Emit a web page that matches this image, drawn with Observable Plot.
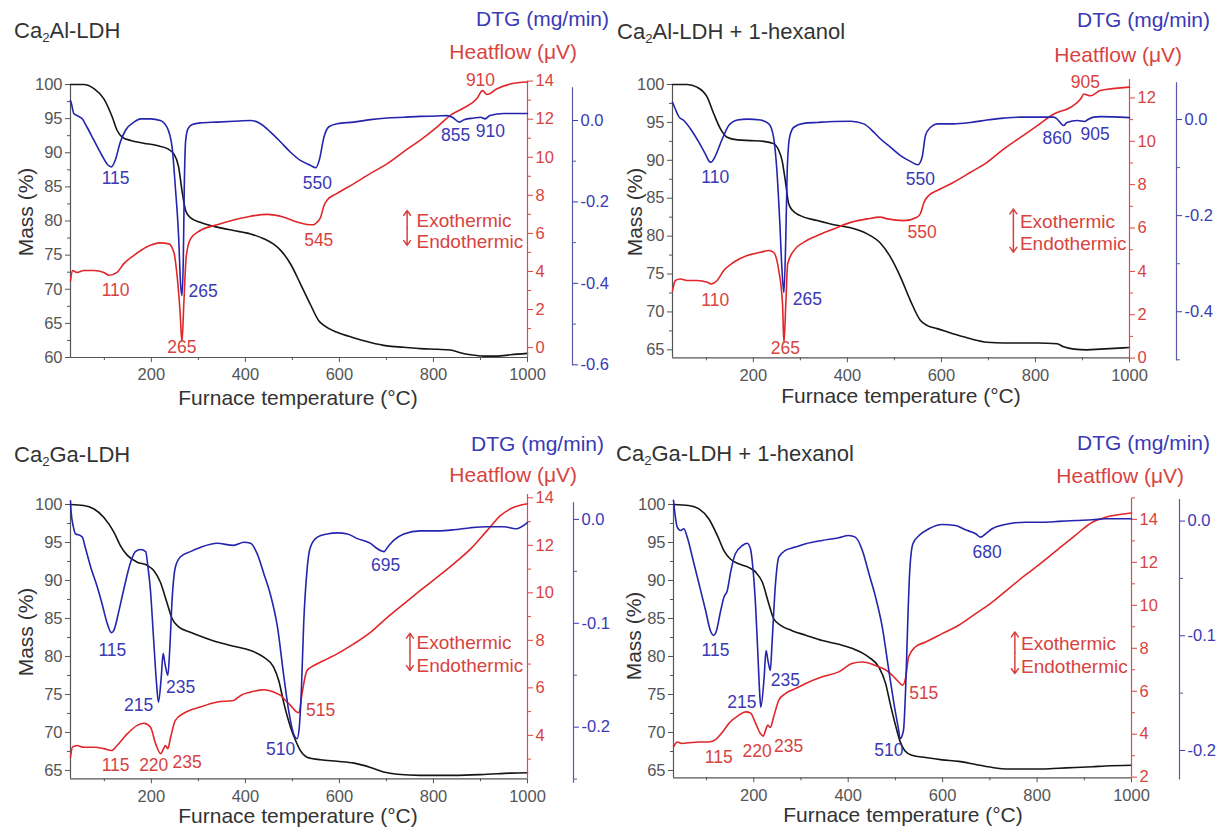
<!DOCTYPE html>
<html><head><meta charset="utf-8">
<script src="https://cdn.jsdelivr.net/npm/d3@7"></script>
<script src="https://cdn.jsdelivr.net/npm/@observablehq/plot@0.6"></script>
<style>
body{margin:0;background:#fff;font-family:"Liberation Sans",Arial,sans-serif;}
#root{position:relative;width:1218px;height:834px;overflow:hidden;background:#fff;}
#root svg{position:absolute;left:0;top:0;pointer-events:none;}
.t{position:absolute;white-space:nowrap;line-height:1;}
.t sub{font-size:0.6em;vertical-align:-0.3em;line-height:0;}
</style></head><body><div id="root"></div>
<script>
// ---------- DATA: Ca2Al-LDH ----------
const al_massT = [28,56,78,99,117,127,138,156,184,212,234,248,258,265,273,283,304,340,375,411,439,460,475,496,517,538,556,567,595,630,666,701,737,772,808,836,857,879,907,935,964,1000];
const al_mass  = [100,100,99.4,97.9,95.2,93.3,92.3,91.8,91.4,91.05,90.6,89.8,87.9,84.5,81.5,80.5,79.8,79.1,78.6,78.1,77.4,76.6,75.7,73.7,70.8,67.8,65.4,64.7,63.7,62.9,62.2,61.7,61.5,61.3,61.2,61.1,60.7,60.4,60.2,60.2,60.4,60.6];
const al_heatT = [28,32,42,56,78,99,110,127,141,163,191,219,237,248,255,261,265,269,274,283,304,340,375,411,446,482,510,531,545,553,560,567,574,595,630,666,701,737,772,808,836,865,893,904,914,935,964,1000];
const al_heat  = [3.5,4.05,3.95,4.05,4.05,3.95,3.8,3.95,4.4,4.85,5.3,5.5,5.45,5.0,3.7,1.9,0.3,2.3,4.75,5.7,6.15,6.45,6.7,6.9,7.0,6.85,6.6,6.47,6.45,6.6,6.85,7.45,7.75,8.1,8.6,9.15,9.65,10.3,10.9,11.6,12.2,12.6,13.1,13.5,13.3,13.6,13.85,13.95];
const al_dtgT  = [28,30,35,42,53,63,78,95,108,115,123,134,145,163,177,198,219,233,244,251,258,262,265,268,270,273,278,287,304,340,375,411,432,453,475,496,517,538,550,557,567,577,595,630,666,701,737,772,808,829,840,855,865,886,900,910,920,950,1000];
const al_dtg   = [0.049,0.041,0.017,0.012,0.004,-0.016,-0.049,-0.086,-0.110,-0.114,-0.098,-0.053,-0.024,-0.004,0.004,0.004,0.0,-0.016,-0.065,-0.164,-0.286,-0.40,-0.43,-0.336,-0.164,-0.049,-0.020,-0.010,-0.006,-0.004,-0.002,0.0,-0.008,-0.028,-0.053,-0.078,-0.098,-0.110,-0.116,-0.098,-0.041,-0.016,-0.008,-0.004,0.002,0.006,0.008,0.010,0.011,0.012,0.008,-0.004,0.002,0.006,0.008,0.004,0.012,0.017,0.017];
const al_blueLabels = [["115",124,-0.143],["265",310,-0.42],["550",553,-0.155],["855",847,-0.037],["910",921,-0.028]];
const al_redLabels  = [["110",124,3.0],["265",265,0.0],["545",556,5.63],["910",900,14.03]];

// ---------- DATA: Ca2Al-LDH + 1-hexanol ----------
const alh_massT = [28,59,80,102,116,130,144,166,194,222,243,254,261,268,275,283,300,336,371,407,442,470,492,513,534,555,570,591,626,662,697,733,768,804,846,860,882,910,938,1000];
const alh_mass  = [100,100,99.65,98.3,96.1,94.15,93.05,92.7,92.6,92.5,92.2,91.3,90,87.3,84.3,83.4,82.7,82.05,81.5,81.1,80.3,79.1,77.2,74.6,71.5,68.9,68.2,67.8,67.1,66.45,66,65.9,65.9,65.9,65.8,65.4,65.1,65.0,65.1,65.3];
const alh_heatT = [28,34,45,59,80,102,110,123,137,158,187,215,233,243,254,262,265,269,273,286,307,336,371,407,442,470,485,520,548,555,563,573,591,626,662,697,733,768,804,839,875,896,903,917,938,1000];
const alh_heat  = [3.1,3.58,3.65,3.58,3.58,3.5,3.42,3.58,4.04,4.42,4.73,4.88,4.96,4.88,4.04,2.5,0.7,2.5,4.35,4.96,5.34,5.65,5.96,6.26,6.42,6.5,6.42,6.34,6.5,6.65,7.19,7.5,7.73,8.11,8.57,9.03,9.65,10.18,10.72,11.26,11.57,11.95,12.18,12.1,12.34,12.5];
const alh_dtgT  = [28,34,42,52,66,84,98,106,110,118,134,148,166,187,215,233,243,250,256,261,265,269,272,277,286,307,336,371,407,435,456,470,492,513,534,550,559,566,577,591,626,662,697,733,768,804,839,846,860,867,889,905,910,924,938,1000];
const alh_dtg   = [0.036,0.022,0.005,-0.002,-0.019,-0.047,-0.072,-0.087,-0.089,-0.078,-0.040,-0.012,-0.001,0.001,-0.001,-0.009,-0.037,-0.106,-0.21,-0.315,-0.36,-0.245,-0.106,-0.037,-0.016,-0.008,-0.006,-0.004,-0.0035,-0.009,-0.026,-0.040,-0.058,-0.075,-0.087,-0.094,-0.078,-0.033,-0.016,-0.009,-0.009,-0.006,-0.001,0.003,0.005,0.005,0.005,0.001,-0.0125,-0.006,-0.002,-0.004,-0.001,0.005,0.006,0.004];
const alh_blueLabels = [["110",119,-0.12],["265",315,-0.374],["550",555,-0.124],["860",846,-0.04],["905",927,-0.031]];
const alh_redLabels  = [["110",119,2.65],["265",268,0.43],["550",559,5.8],["905",906,12.72]];

// ---------- DATA: Ca2Ga-LDH ----------
const ga_massT = [28,56,78,99,120,134,149,170,191,205,219,234,244,258,283,312,340,375,411,439,460,471,482,496,507,517,531,560,595,631,666,694,723,772,843,914,964,1000];
const ga_mass  = [100,99.87,99.4,98.3,96.4,94.6,93.3,92.4,92,91.3,89.8,86.9,85,83.9,83.2,82.5,81.9,81.35,80.8,79.9,78.6,76.8,73.8,70.7,68.9,67.6,66.75,66.4,66.2,65.96,65.4,64.8,64.5,64.35,64.35,64.5,64.65,64.7];
const ga_heatT = [28,32,42,56,78,99,115,127,149,170,184,198,209,220,226,230,235,241,251,269,304,340,375,390,411,439,460,475,482,496,508,514,520,531,546,574,595,631,666,702,737,772,808,843,879,914,943,964,1000];
const ga_heat  = [3.08,3.5,3.57,3.5,3.5,3.44,3.36,3.57,4.07,4.42,4.51,4.35,3.65,3.23,3.44,3.57,3.44,3.92,4.63,4.93,5.19,5.4,5.47,5.68,5.82,5.92,5.82,5.68,5.54,5.26,5.0,4.95,5.7,6.73,6.94,7.22,7.43,7.86,8.34,8.97,9.54,10.1,10.66,11.22,11.85,12.62,13.26,13.54,13.75];
const ga_dtgT  = [28,29,34,39,46,53,60,71,85,95,106,115,120,131,141,156,166,177,188,192,198,205,211,215,221,225,229,235,239,244,251,262,283,304,340,375,397,411,425,439,453,468,482,492,503,510,514,519,524,531,538,553,574,595,617,638,666,680,695,702,716,737,772,808,843,879,914,950,975,1000];
const ga_dtg   = [0.018,0.009,-0.007,-0.014,-0.015,-0.017,-0.028,-0.046,-0.065,-0.081,-0.100,-0.109,-0.107,-0.088,-0.068,-0.041,-0.031,-0.029,-0.031,-0.043,-0.068,-0.117,-0.158,-0.176,-0.152,-0.129,-0.139,-0.150,-0.126,-0.078,-0.046,-0.036,-0.031,-0.027,-0.023,-0.025,-0.022,-0.023,-0.033,-0.052,-0.072,-0.103,-0.152,-0.184,-0.207,-0.211,-0.203,-0.165,-0.100,-0.049,-0.027,-0.017,-0.014,-0.013,-0.014,-0.0185,-0.023,-0.028,-0.031,-0.027,-0.020,-0.014,-0.011,-0.011,-0.010,-0.008,-0.007,-0.007,-0.009,-0.003];
const ga_blueLabels = [["115",117,-0.126],["215",173,-0.179],["235",262,-0.1616],["510",475,-0.221],["695",698,-0.0443]];
const ga_redLabels  = [["115",124,2.73],["220",205,2.73],["235",276,2.87],["515",560,5.05]];

// ---------- DATA: Ca2Ga-LDH + 1-hexanol ----------
const gah_massT = [30,62,84,105,123,137,151,168,190,204,218,232,242,257,281,310,345,380,415,444,465,479,490,500,510,520,535,564,599,634,670,705,740,775,811,846,881,917,945,1000];
const gah_mass  = [100,99.87,99.43,98.1,95.9,93.9,92.8,92.2,91.7,91.1,89.8,86.9,85,84.1,83.4,82.8,82.1,81.6,80.9,79.9,78.6,76.5,73.5,71,68.8,67.6,67.0,66.7,66.4,66.2,65.8,65.4,65.2,65.2,65.2,65.3,65.4,65.5,65.6,65.7];
const gah_heatT = [30,38,48,62,84,105,115,137,147,168,183,193,204,214,220,225,230,235,242,253,267,288,310,345,380,408,430,451,465,479,493,507,515,522,528,542,564,599,634,670,705,740,775,811,846,881,917,945,1000];
const gah_heat  = [3.41,3.64,3.57,3.6,3.64,3.64,3.69,4.19,4.5,4.88,5.04,4.99,4.5,4.03,3.91,4.19,4.42,4.31,4.8,5.58,5.89,6.12,6.36,6.67,6.9,7.29,7.36,7.26,7.13,7.0,6.75,6.43,6.28,6.67,7.6,8.06,8.29,8.68,9.07,9.61,10.15,10.78,11.4,12.01,12.64,13.26,13.87,14.1,14.3];
const gah_dtgT  = [30,34,38,45,52,59,70,84,98,108,115,120,130,137,144,151,161,176,186,193,198,204,209,213,215,222,226,230,235,239,246,253,267,288,310,345,380,401,415,430,444,458,472,486,497,507,510,517,522,526,530,537,550,571,599,627,648,670,680,691,705,740,775,811,846,881,917,945,1000];
const gah_dtg   = [0.018,0.0034,-0.0053,-0.0082,-0.0067,-0.014,-0.0315,-0.0547,-0.078,-0.0954,-0.0997,-0.0969,-0.078,-0.0663,-0.0605,-0.0445,-0.0285,-0.0213,-0.0193,-0.0242,-0.0402,-0.075,-0.1187,-0.1535,-0.1622,-0.136,-0.1128,-0.1215,-0.1302,-0.1041,-0.0547,-0.0315,-0.0256,-0.0227,-0.0198,-0.0169,-0.0146,-0.0126,-0.014,-0.0256,-0.046,-0.0663,-0.092,-0.1302,-0.1593,-0.1826,-0.1898,-0.1826,-0.1419,-0.0895,-0.046,-0.0198,-0.0126,-0.0067,-0.003,-0.0038,-0.0076,-0.0111,-0.014,-0.0111,-0.0067,-0.0024,-0.001,-0.001,-0.0003,0.0005,0.0011,0.002,0.002];
const gah_blueLabels = [["115",119,-0.1128],["215",175,-0.158],["235",267,-0.139],["510",486,-0.2],["680",694,-0.027]];
const gah_redLabels  = [["115",126,2.94],["220",207,3.18],["235",274,3.41],["515",560,5.89]];

// ---------- TEXT / TICKS ----------
const titles = ["Ca<sub>2</sub>Al-LDH","Ca<sub>2</sub>Al-LDH + 1-hexanol","Ca<sub>2</sub>Ga-LDH","Ca<sub>2</sub>Ga-LDH + 1-hexanol"];
const xMajor = [200,400,600,800,1000];
const xMinor = [100,300,500,700,900];
const exoText = ["Exothermic","Endothermic"];

// ---------- LAYOUT (pixel geometry and styles) ----------
const W = 1218, H = 834;
const BLACK = "#151515", RED = "#e0262a", BLUE = "#2424ad";
const REDTXT = "#d8433f", BLUETXT = "#3a3ab4", AXC = "#555", REDAX = "#d2504c", BLUEAX = "#5a5aa6";
const FONT = "Liberation Sans, Arial, sans-serif";
const TICKFS = 16.5, PEAKFS = 17.5, TITLEFS = 22, LABFS = 21, EXOFS = 19;

const panels = [
  {massT:al_massT, mass:al_mass, heatT:al_heatT, heat:al_heat, dtgT:al_dtgT, dtg:al_dtg, bl:al_blueLabels, rl:al_redLabels,
   x0:70, x1:527, xd:[28,1000], mTop:84, mBot:357, md:[60,100], hTop:80.6, hBot:357, hd:[-0.52,14],
   dX:572, dTop:87.4, dBot:364.3, dd:[-0.6,0.08], dTicks:[0,-0.2,-0.4,-0.6], dMinor:[-0.1,-0.3,-0.5],
   exo:{t:744, lo:5.37, hi:7.2, tx:764, ey:6.68, ny:5.54},
   title:[14,31], dtgLab:[609,18], heatLab:[577,51], massLab:[25,212], xLab:[298,397]},
  {massT:alh_massT, mass:alh_mass, heatT:alh_heatT, heat:alh_heat, dtgT:alh_dtgT, dtg:alh_dtg, bl:alh_blueLabels, rl:alh_redLabels,
   x0:672, x1:1129, xd:[28,1000], mTop:84, mBot:357.3, md:[63.95,100], hTop:79, hBot:357.6, hd:[0,12.85],
   dX:1176, dTop:82.3, dBot:359.3, dd:[-0.5,0.0765], dTicks:[0,-0.2,-0.4], dMinor:[-0.1,-0.3,-0.5],
   exo:{t:753, lo:4.88, hi:6.88, tx:767, ey:6.26, ny:5.27},
   title:[617,32], dtgLab:[1210,19], heatLab:[1182,54], massLab:[634,212], xLab:[901,395]},
  {massT:ga_massT, mass:ga_mass, heatT:ga_heatT, heat:ga_heat, dtgT:ga_dtgT, dtg:ga_dtg, bl:ga_blueLabels, rl:ga_redLabels,
   x0:70, x1:527, xd:[28,1000], mTop:504, mBot:778.3, md:[63.9,100], hTop:494, hBot:778.3, hd:[2.17,14.14],
   dX:573, dTop:502.3, dBot:781.7, dd:[-0.253,0.016], dTicks:[0,-0.1,-0.2], dMinor:[-0.05,-0.15,-0.25],
   exo:{t:750, lo:6.73, hi:8.3, tx:764, ey:7.88, ny:6.94},
   title:[14,455], dtgLab:[604,443], heatLab:[577,474], massLab:[25,632], xLab:[298,815]},
  {massT:gah_massT, mass:gah_mass, heatT:gah_heatT, heat:gah_heat, dtgT:gah_dtgT, dtg:gah_dtg, bl:gah_blueLabels, rl:gah_redLabels,
   x0:673, x1:1131, xd:[30,1000], mTop:504, mBot:777.3, md:[64.04,100], hTop:497.4, hBot:777.3, hd:[1.97,15.0],
   dX:1179, dTop:499, dBot:778.3, dd:[-0.2247,0.0188], dTicks:[0,-0.1,-0.2], dMinor:[-0.05,-0.15],
   exo:{t:753, lo:6.82, hi:8.76, tx:766, ey:8.19, ny:7.13},
   title:[616,454], dtgLab:[1210,442], heatLab:[1184,475], massLab:[633,636], xLab:[903,814]}
];

const root = document.getElementById("root");
const rows = (ts, vs) => ts.map((t, i) => ({t, v: vs[i]}));
const labRows = arr => arr.map(([text, t, v]) => ({text, t, v}));
const within = (vals, [a, b]) => vals.filter(v => v >= Math.min(a,b) - 1e-9 && v <= Math.max(a,b) + 1e-9);
const stepRange = (a, b, s) => d3.range(Math.ceil(a / s) * s, b + 1e-9, s).map(v => +v.toFixed(4));
const style = {fontFamily: FONT, background: "transparent", overflow: "visible"};

function add(svg) { root.appendChild(svg); }

function addText(html, x, y, {anchor = "start", size = 19, color = "#333", rotate = false} = {}) {
  const d = document.createElement("div");
  d.className = "t";
  d.innerHTML = html;
  d.style.left = x + "px"; d.style.top = y + "px";
  d.style.fontSize = size + "px"; d.style.color = color;
  const tx = anchor === "start" ? "0" : anchor === "end" ? "-100%" : "-50%";
  d.style.transform = rotate ? "translate(-50%,-50%) rotate(-90deg)" : `translate(${tx},-50%)`;
  root.appendChild(d);
}

panels.forEach(p => {
  // ----- Mass (left axis, black) -----
  const mTicks = stepRange(p.md[0], p.md[1], 5);
  const mMinor = within(stepRange(p.md[0], p.md[1], 2.5), p.md).filter(v => !mTicks.includes(v));
  add(Plot.plot({
    width: W, height: H, style,
    marginLeft: p.x0, marginRight: W - p.x1, marginTop: p.mTop, marginBottom: H - p.mBot,
    x: {domain: p.xd}, y: {domain: p.md},
    marks: [
      Plot.ruleX([p.xd[0]], {stroke: AXC, strokeWidth: 1.2}),
      Plot.ruleY([p.md[0]], {stroke: AXC, strokeWidth: 1.2}),
      Plot.axisX({ticks: xMajor, tickSize: 5, tickPadding: 6, tickFormat: d => String(d), fontSize: TICKFS, color: AXC, label: null}),
      Plot.axisX({ticks: xMinor, tickSize: 3, tickFormat: () => "", color: AXC, label: null}),
      Plot.axisY({ticks: mTicks, tickSize: 5, tickPadding: 3, tickFormat: d => String(d), fontSize: TICKFS, color: AXC, label: null}),
      Plot.axisY({ticks: mMinor, tickSize: 3, tickFormat: () => "", color: AXC, label: null}),
      Plot.line(rows(p.massT, p.mass), {x: "t", y: "v", stroke: BLACK, strokeWidth: 1.6, curve: "monotone-x"})
    ]
  }));

  // ----- Heatflow (right axis, red) -----
  const hTicks = stepRange(p.hd[0], p.hd[1], 2);
  const hMinor = stepRange(p.hd[0], p.hd[1], 1).filter(v => !hTicks.includes(v));
  const ex = p.exo, mid = (ex.lo + ex.hi) / 2;
  add(Plot.plot({
    width: W, height: H, style,
    marginLeft: p.x0, marginRight: W - p.x1, marginTop: p.hTop, marginBottom: H - p.hBot,
    x: {domain: p.xd, axis: null}, y: {domain: p.hd},
    marks: [
      Plot.ruleX([p.xd[1]], {stroke: REDAX, strokeWidth: 1.2}),
      Plot.axisY({anchor: "right", ticks: hTicks, tickSize: 5, tickPadding: 3, tickFormat: d => String(d), fontSize: TICKFS, color: REDTXT, label: null}),
      Plot.axisY({anchor: "right", ticks: hMinor, tickSize: 3, tickFormat: () => "", color: REDAX, label: null}),
      Plot.line(rows(p.heatT, p.heat), {x: "t", y: "v", stroke: RED, strokeWidth: 1.6, curve: "monotone-x"}),
      Plot.text(labRows(p.rl), {x: "t", y: "v", text: "text", fill: REDTXT, fontSize: PEAKFS}),
      Plot.arrow([{t: ex.t, a: mid, b: ex.hi}, {t: ex.t, a: mid, b: ex.lo}], {x1: "t", x2: "t", y1: "a", y2: "b", stroke: REDTXT, strokeWidth: 1.5, headLength: 6, headAngle: 70}),
      Plot.text([{s: exoText[0], t: ex.tx, v: ex.ey}, {s: exoText[1], t: ex.tx, v: ex.ny}], {x: "t", y: "v", text: "s", textAnchor: "start", fill: REDTXT, fontSize: EXOFS})
    ]
  }));

  // ----- DTG (offset right axis, blue) -----
  add(Plot.plot({
    width: W, height: H, style,
    marginLeft: p.x0, marginRight: W - p.dX, marginTop: p.dTop, marginBottom: H - p.dBot,
    x: {domain: p.xd, range: [p.x0, p.x1], axis: null}, y: {domain: p.dd},
    marks: [
      Plot.frame({anchor: "right", stroke: BLUEAX, strokeWidth: 1.2}),
      Plot.axisY({anchor: "right", ticks: p.dTicks, tickSize: 5, tickPadding: 3, tickFormat: d => d.toFixed(1), fontSize: TICKFS, color: BLUETXT, label: null}),
      Plot.axisY({anchor: "right", ticks: p.dMinor, tickSize: 3, tickFormat: () => "", color: BLUEAX, label: null}),
      Plot.line(rows(p.dtgT, p.dtg), {x: "t", y: "v", stroke: BLUE, strokeWidth: 1.6, curve: "monotone-x"}),
      Plot.text(labRows(p.bl), {x: "t", y: "v", text: "text", fill: BLUETXT, fontSize: PEAKFS})
    ]
  }));
});

panels.forEach((p, i) => {
  addText(titles[i], p.title[0], p.title[1], {size: TITLEFS, color: "#333"});
  addText("DTG (mg/min)", p.dtgLab[0], p.dtgLab[1], {anchor: "end", size: LABFS, color: BLUETXT});
  addText("Heatflow (\u03bcV)", p.heatLab[0], p.heatLab[1], {anchor: "end", size: LABFS, color: REDTXT});
  addText("Mass (%)", p.massLab[0], p.massLab[1], {size: LABFS, color: "#333", rotate: true});
  addText("Furnace temperature (\u00b0C)", p.xLab[0], p.xLab[1], {anchor: "middle", size: LABFS, color: "#333"});
});
</script></body></html>
